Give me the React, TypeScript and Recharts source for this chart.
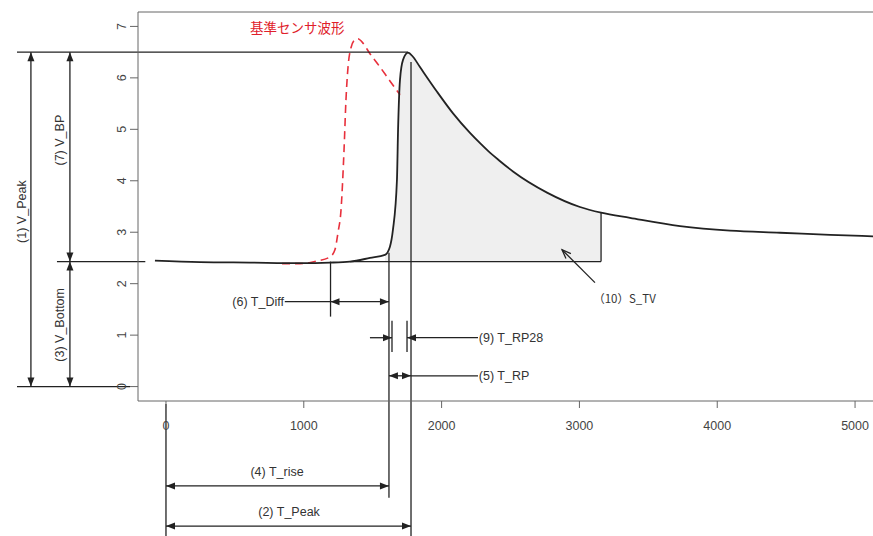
import React from 'react';
import {
  ComposedChart,
  Line,
  Area,
  XAxis,
  YAxis,
  ReferenceLine,
  ReferenceDot,
} from 'recharts';

// black curve: measured sensor (time ms, voltage V)
const sensorT = [
  -80, 247, 610, 972, 1190, 1335, 1480, 1589, 1625, 1647, 1676, 1684, 1698,
  1720, 1756, 1792, 1843, 1967, 2083, 2206, 2279, 2337, 2420, 2518, 2765, 3004,
  3157, 3367, 3730, 4093, 4456, 4819, 5131,
];
const sensorV = [
  2.45, 2.42, 2.41, 2.4, 2.41, 2.43, 2.5, 2.56, 2.72, 3.05, 4.02, 4.99, 5.96,
  6.35, 6.49, 6.41, 6.21, 5.73, 5.31, 4.93, 4.73, 4.58, 4.39, 4.18, 3.77, 3.49,
  3.38, 3.28, 3.12, 3.03, 2.99, 2.95, 2.92,
];

// red dashed curve: reference sensor
const refT = [
  842, 972, 1096, 1190, 1226, 1248, 1270, 1292, 1306, 1321, 1342, 1371, 1393,
  1422, 1480, 1553, 1625, 1698,
];
const refV = [
  2.39, 2.39, 2.44, 2.52, 2.66, 2.99, 3.43, 4.6, 5.57, 6.21, 6.58, 6.74, 6.76,
  6.7, 6.47, 6.21, 5.94, 5.67,
];

const xTicks = [0, 1000, 2000, 3000, 4000, 5000];
const yTicks = [0, 1, 2, 3, 4, 5, 6, 7];

// measured feature points
const T_DIFF = 1194;
const T_RISE = 1618;
const T_RP28_A = 1640;
const T_RP28_B = 1749;
const T_PEAK = 1778;
const T_STV_START = 1335;
const T_STV_END = 3157;
const V_PEAK = 6.5;
const V_BOTTOM = 2.43;

const sensorData = sensorT.map((t, i) => ({ t, v: sensorV[i] }));
const refData = refT.map((t, i) => ({ t, v: refV[i] }));
const stvData = sensorData.filter((d) => d.t >= 1589 && d.t <= T_STV_END);

const INK = '#222';
const AXIS = '#666';
const FONT = '"Liberation Sans", Arial, sans-serif';

type Head = 'none' | 'start' | 'end' | 'both' | 'open-start';
type Seg = { a: [number, number]; b: [number, number]; head?: Head };

// annotation lines, in data units (t, v)
const segments: Seg[] = [
  // left voltage markers
  { a: [-1081, V_PEAK], b: [1756, V_PEAK] },
  { a: [-791, V_BOTTOM], b: [-150, V_BOTTOM] },
  { a: [-1081, 0], b: [-261, 0] },
  { a: [-980, V_PEAK], b: [-980, 0], head: 'both' },
  { a: [-697, V_PEAK], b: [-697, V_BOTTOM], head: 'both' },
  { a: [-697, V_BOTTOM], b: [-697, 0], head: 'both' },
  // S_TV box
  { a: [T_STV_START, V_BOTTOM], b: [T_STV_END, V_BOTTOM] },
  { a: [T_STV_END, V_BOTTOM], b: [T_STV_END, 3.38] },
  // verticals
  { a: [0, -0.34], b: [0, -3.0] },
  { a: [T_DIFF, V_BOTTOM], b: [T_DIFF, 1.36] },
  { a: [T_RISE, 2.6], b: [T_RISE, -2.16] },
  { a: [T_PEAK, 6.31], b: [T_PEAK, -3.0] },
  { a: [T_RP28_A, 1.28], b: [T_RP28_A, 0.67] },
  { a: [T_RP28_B, 1.28], b: [T_RP28_B, 0.67] },
  // T_Diff
  { a: [T_DIFF, 1.65], b: [T_RISE, 1.65], head: 'both' },
  { a: [862, 1.65], b: [T_DIFF, 1.65] },
  // T_RP28
  { a: [1480, 0.95], b: [T_RP28_A, 0.95], head: 'end' },
  { a: [T_RP28_B, 0.95], b: [2264, 0.95], head: 'start' },
  // T_RP
  { a: [T_RISE, 0.21], b: [T_PEAK, 0.21], head: 'both' },
  { a: [T_PEAK, 0.21], b: [2264, 0.21] },
  // T_rise / T_Peak
  { a: [0, -1.93], b: [T_RISE, -1.93], head: 'both' },
  { a: [0, -2.71], b: [T_PEAK, -2.71], head: 'both' },
  // S_TV pointer
  { a: [2874, 2.66], b: [3113, 2.02], head: 'open-start' },
];

type Note = { t: number; v: number; text: string; anchor: 'start' | 'middle' | 'end'; rotate?: boolean; color?: string; size?: number; cjk?: boolean };

const notes: Note[] = [
  { t: 610, v: 6.99, text: '基準センサ波形', anchor: 'start', color: '#e0202a', size: 13.5, cjk: true },
  { t: -1045, v: 3.4, text: '(1) V_Peak', anchor: 'middle', rotate: true },
  { t: -769, v: 4.79, text: '(7) V_BP', anchor: 'middle', rotate: true },
  { t: -769, v: 1.2, text: '(3) V_Bottom', anchor: 'middle', rotate: true },
  { t: 856, v: 1.65, text: '(6) T_Diff', anchor: 'end' },
  { t: 2270, v: 0.95, text: '(9) T_RP28', anchor: 'start' },
  { t: 2270, v: 0.21, text: '(5) T_RP', anchor: 'start' },
  { t: 806, v: -1.66, text: '(4) T_rise', anchor: 'middle' },
  { t: 893, v: -2.44, text: '(2) T_Peak', anchor: 'middle' },
  { t: 3100, v: 1.72, text: '（10）S_TV', anchor: 'start', size: 11.5, cjk: true },
];

function headPoints(x: number, y: number, fx: number, fy: number) {
  const ang = Math.atan2(y - fy, x - fx);
  const len = 9;
  const half = 3.5;
  const bx = x - len * Math.cos(ang);
  const by = y - len * Math.sin(ang);
  const px = -Math.sin(ang) * half;
  const py = Math.cos(ang) * half;
  return { x, y, p1: [bx + px, by + py], p2: [bx - px, by - py] };
}

const makeShape = (head: Head) => (props: any) => {
  const { x1, y1, x2, y2 } = props;
  const parts: React.ReactNode[] = [
    <line key="l" x1={x1} y1={y1} x2={x2} y2={y2} stroke={INK} strokeWidth={1.3} />,
  ];
  if (head === 'start' || head === 'both') {
    const h = headPoints(x1, y1, x2, y2);
    parts.push(<polygon key="s" points={`${h.x},${h.y} ${h.p1.join(',')} ${h.p2.join(',')}`} fill={INK} />);
  }
  if (head === 'end' || head === 'both') {
    const h = headPoints(x2, y2, x1, y1);
    parts.push(<polygon key="e" points={`${h.x},${h.y} ${h.p1.join(',')} ${h.p2.join(',')}`} fill={INK} />);
  }
  if (head === 'open-start') {
    const h = headPoints(x1, y1, x2, y2);
    parts.push(
      <polyline key="o" points={`${h.p1.join(',')} ${h.x},${h.y} ${h.p2.join(',')}`} fill="none" stroke={INK} strokeWidth={1.3} />
    );
  }
  return <g>{parts}</g>;
};

const makeNote = (n: Note) => (props: any) => {
  const { cx, cy } = props;
  return (
    <text
      x={cx}
      y={cy}
      textAnchor={n.anchor}
      dominantBaseline="central"
      transform={n.rotate ? `rotate(-90 ${cx} ${cy})` : undefined}
      fontSize={n.size ?? 12.5}
      fontFamily={n.cjk ? '"Noto Sans CJK JP", sans-serif' : FONT}
      fill={n.color ?? '#333'}
    >
      {n.text}
    </text>
  );
};

const YTick = (props: any) => {
  const { x, y, payload } = props;
  return (
    <text
      x={x}
      y={y}
      transform={`rotate(-90 ${x} ${y})`}
      textAnchor="middle"
      fontSize={12.5}
      fontFamily={FONT}
      fill="#444"
    >
      {payload.value}
    </text>
  );
};

export default function App() {
  return (
    <div
      style={{
        position: 'fixed',
        left: 0,
        top: 0,
        width: 873,
        height: 536,
        overflow: 'hidden',
        background: '#fff',
      }}
    >
      <ComposedChart
        width={880}
        height={536}
        margin={{ top: 12, right: 0, bottom: 105, left: 0 }}
      >
        <XAxis
          type="number"
          dataKey="t"
          domain={[-203, 5181]}
          ticks={xTicks}
          allowDataOverflow
          height={30}
          tickSize={7}
          tickMargin={13}
          stroke={AXIS}
          tick={{ fill: '#444', fontSize: 12.5, fontFamily: FONT }}
        />
        <YAxis
          type="number"
          domain={[-0.28, 7.28]}
          ticks={yTicks}
          allowDataOverflow
          width={138}
          tickSize={8}
          tickMargin={4}
          stroke={AXIS}
          tick={<YTick />}
        />
        <ReferenceLine y={7.28} stroke={AXIS} ifOverflow="visible" />
        <Area
          data={stvData}
          dataKey="v"
          type="monotone"
          baseValue={V_BOTTOM}
          stroke="none"
          fill="#efefef"
          fillOpacity={1}
          isAnimationActive={false}
        />
        <Line
          data={refData}
          dataKey="v"
          type="monotone"
          stroke="#e8303c"
          strokeWidth={1.6}
          strokeDasharray="8 5"
          dot={false}
          isAnimationActive={false}
        />
        <Line
          data={sensorData}
          dataKey="v"
          type="monotone"
          stroke={INK}
          strokeWidth={1.8}
          dot={false}
          isAnimationActive={false}
        />
        {segments.map((s, i) => (
          <ReferenceLine
            key={`seg-${i}`}
            segment={[
              { x: s.a[0], y: s.a[1] },
              { x: s.b[0], y: s.b[1] },
            ]}
            ifOverflow="visible"
            shape={makeShape(s.head ?? 'none')}
          />
        ))}
        {notes.map((n, i) => (
          <ReferenceDot
            key={`note-${i}`}
            x={n.t}
            y={n.v}
            r={0}
            ifOverflow="visible"
            shape={makeNote(n)}
          />
        ))}
      </ComposedChart>
    </div>
  );
}
